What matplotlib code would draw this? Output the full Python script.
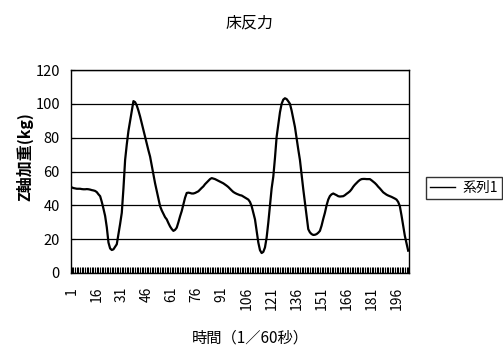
import matplotlib
matplotlib.use('Agg')
import matplotlib.pyplot as plt
from matplotlib.ticker import MultipleLocator, FixedLocator

plt.rcParams['font.family'] = ['Noto Sans CJK JP', 'DejaVu Sans']

title = '床反力'
x_label = '時間（1／60秒）'
y_label = 'Z軸加重(kg)'
series_name = '系列1'

# Z-axis load per frame (1/60 s)
values = [
    50.6, 50.2, 50.0, 49.8, 49.8, 49.8, 49.6, 49.5, 49.5, 49.6,
    49.5, 49.3, 49.0, 48.8, 48.5, 47.8, 46.5, 45.4, 42.0, 38.0,
    33.7, 27.0, 18.0, 14.5, 13.6, 14.0, 15.5, 17.0, 23.0, 29.0,
    35.6, 50.0, 66.8, 76.0, 84.0, 90.0, 96.0, 101.6, 101.0, 99.0,
    96.0, 92.5, 88.5, 84.5, 80.5, 76.5, 72.5, 68.8, 63.5, 58.0,
    53.0, 48.5, 44.0, 39.5, 37.0, 35.0, 33.0, 31.7, 29.5, 27.5,
    26.0, 24.9, 25.5, 26.8, 30.0, 33.5, 36.6, 40.5, 44.5, 47.3,
    47.5, 47.3, 47.0, 47.0, 47.3, 47.8, 48.3, 49.3, 50.3, 51.2,
    52.5, 53.5, 54.5, 55.5, 56.1, 55.8, 55.5, 55.0, 54.5, 54.0,
    53.5, 53.0, 52.3, 51.6, 50.8, 49.8, 48.8, 47.9, 47.3, 46.8,
    46.4, 46.0, 45.8, 45.2, 44.6, 44.0, 43.4, 42.0, 39.5, 35.5,
    31.7, 25.0, 18.0, 13.5, 11.8, 12.5, 15.1, 21.0, 29.8, 40.0,
    50.0, 57.0, 68.0, 80.5, 88.0, 95.0, 100.0, 102.5, 103.3, 102.8,
    101.5, 100.0, 96.0, 91.0, 86.3, 79.5, 73.0, 66.8, 58.0, 49.5,
    41.5, 33.5, 25.9, 24.0, 23.0, 22.5, 22.6, 23.0, 23.8, 24.9,
    28.0, 32.0, 35.6, 40.0, 43.4, 45.5, 46.5, 47.0, 46.5, 46.0,
    45.4, 45.2, 45.3, 45.4, 46.0, 46.8, 47.5, 48.3, 49.5, 51.0,
    52.2, 53.2, 54.2, 55.0, 55.5, 55.6, 55.6, 55.5, 55.5, 55.5,
    54.8, 54.0, 53.2, 52.2, 51.0, 50.0, 48.8, 47.7, 47.0, 46.3,
    45.8, 45.4, 45.0, 44.5, 44.0, 43.4, 42.0, 39.5, 34.0, 27.8,
    22.0, 17.5, 13.2,
]
frames = list(range(1, len(values) + 1))
tick_frames = list(range(1, len(values) + 1, 15))

fig = plt.figure(figsize=(5.03, 3.49), dpi=100)
ax = fig.add_axes([71 / 503, 1 - 273 / 349, 338 / 503, 203 / 349])

line, = ax.plot(frames, values, color='black', lw=1.6, label=series_name)

ax.set_xlim(0.5, len(values) + 0.5)
ax.set_ylim(0, 120)
ax.yaxis.set_major_locator(MultipleLocator(20))
ax.grid(axis='y', color='black', lw=0.9)
ax.set_axisbelow(True)

ax.xaxis.set_major_locator(FixedLocator(tick_frames))
ax.xaxis.set_minor_locator(MultipleLocator(1))
ax.set_xticklabels([str(f) for f in tick_frames], rotation=90)
ax.tick_params(axis='x', which='both', direction='in', length=4, width=0.8, pad=10, labelsize=10)
ax.tick_params(axis='y', direction='in', length=3, labelsize=10.5, pad=8)

for s in ax.spines.values():
    s.set_linewidth(1.0)
    s.set_color('black')

fig.text(250 / 503, 1 - 338 / 349, x_label, ha='center', va='center', fontsize=11)
fig.text(25 / 503, 1 - 157 / 349, y_label, ha='center', va='center', rotation=90,
         fontsize=11.5, fontweight='bold')
fig.text(250 / 503, 1 - 23 / 349, title, ha='center', va='center', fontsize=11.5)

fig.legend(handles=[line], loc='upper left', bbox_to_anchor=(419 / 503, 1 - 170 / 349),
           fontsize=10, frameon=True, fancybox=False, edgecolor='black',
           handlelength=1.8, borderpad=0.3, handletextpad=0.5)
fig.legends[0].get_lines()[0].set_linewidth(1.0)

fig.savefig('out.png', dpi=100)
